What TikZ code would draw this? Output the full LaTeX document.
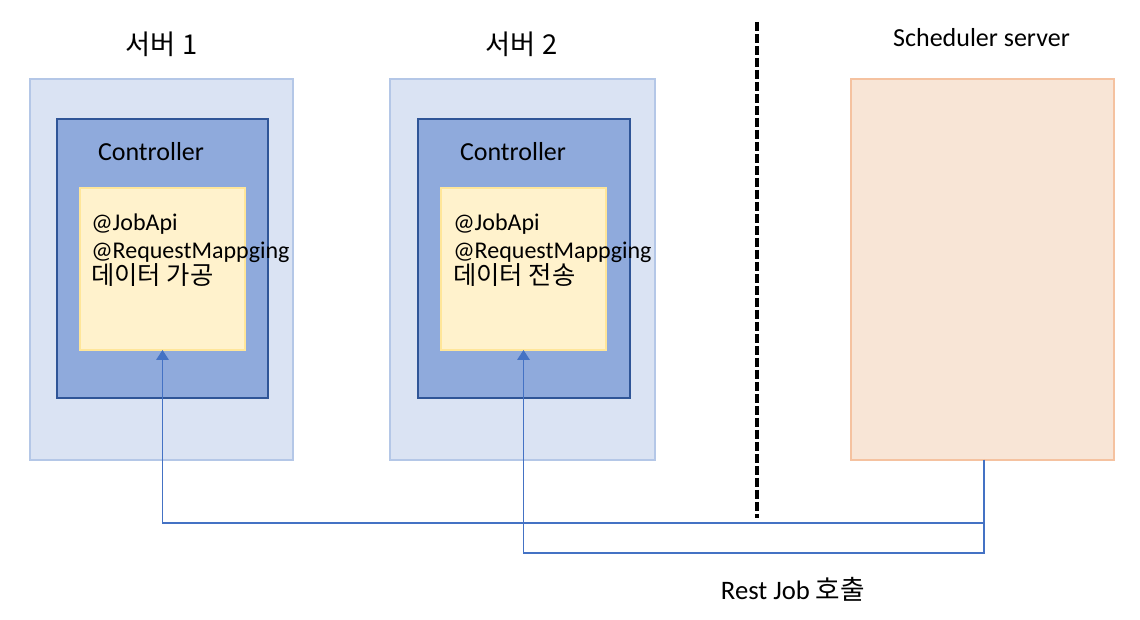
\documentclass[tikz,border=0pt]{standalone}
\usepackage{fontspec}
\setmainfont{Carlito}
\newfontfamily\kr{Noto Sans CJK KR}
\usetikzlibrary{arrows.meta}
\definecolor{outerfill}{HTML}{DAE3F3}
\definecolor{outerdraw}{HTML}{B4C7E7}
\definecolor{ctrlfill}{HTML}{8FAADC}
\definecolor{ctrldraw}{HTML}{2F5597}
\definecolor{yfill}{HTML}{FFF2CC}
\definecolor{ydraw}{HTML}{FFE699}
\definecolor{sfill}{HTML}{F8E5D6}
\definecolor{sdraw}{HTML}{F5C2A0}
\definecolor{conncol}{HTML}{4472C4}
\tikzset{
  box/.style={rectangle, inner sep=0pt, outer sep=0pt},
  outerbox/.style={box, fill=outerfill, draw=outerdraw, line width=1.3pt},
  ctrlbox/.style={box, fill=ctrlfill, draw=ctrldraw, line width=1.4pt},
  ybox/.style={box, fill=yfill, draw=ydraw, line width=1.2pt},
  schedbox/.style={box, fill=sfill, draw=sdraw, line width=1.3pt},
  lbl/.style={inner sep=0pt, anchor=base},
  itemtxt/.style={inner sep=0pt, anchor=base west, font=\fontsize{18}{21}\selectfont},
  krtxt/.style={itemtxt, font=\kr\fontsize{19}{22}\selectfont},
  conn/.style={draw=conncol, line width=0.9pt, -{Triangle[width=9.5pt,length=7.5pt]}},
  sep/.style={black, line width=2.5pt, dash pattern=on 6.75pt off 2.25pt}
}
\begin{document}
\begin{tikzpicture}[x=0.75pt,y=-0.75pt]
\useasboundingbox (0,0) rectangle (1140,620);
% server 1
\node[outerbox, minimum width=263*0.75pt, minimum height=381*0.75pt] (o1) at (161.5,269.5) {};
\node[ctrlbox, minimum width=211*0.75pt, minimum height=279*0.75pt] (c1) at (162.5,258.5) {};
\node[ybox, minimum width=165*0.75pt, minimum height=162*0.75pt] (y1) at (162.5,269) {};
\node[lbl, font=\kr\fontsize{20.5}{24}\selectfont] (t1) at (161.5,55) {서버 1};
\node[lbl, font=\fontsize{19.5}{23}\selectfont] (ct1) at (151,161) {Controller};
\node[itemtxt] (a1) at (91,231) {@JobApi};
\node[itemtxt] (b1) at (91,259) {@RequestMappging};
\node[krtxt] (d1) at (91,285) {데이터 가공};
% server 2
\node[outerbox, minimum width=265*0.75pt, minimum height=381*0.75pt] (o2) at (522.5,269.5) {};
\node[ctrlbox, minimum width=212*0.75pt, minimum height=279*0.75pt] (c2) at (524,258.5) {};
\node[ybox, minimum width=165*0.75pt, minimum height=162*0.75pt] (y2) at (523.5,269) {};
\node[lbl, font=\kr\fontsize{20.5}{24}\selectfont] (t2) at (521.5,55) {서버 2};
\node[lbl, font=\fontsize{19.5}{23}\selectfont] (ct2) at (513,161) {Controller};
\node[itemtxt] (a2) at (453,231) {@JobApi};
\node[itemtxt] (b2) at (453,259) {@RequestMappging};
\node[krtxt] (d2) at (453,285) {데이터 전송};
% scheduler
\node[schedbox, minimum width=263*0.75pt, minimum height=381*0.75pt] (s) at (982.5,269.5) {};
\node[lbl, font=\fontsize{19.5}{23}\selectfont] (st) at (981.5,47) {Scheduler server};
% separator
\coordinate (dtop) at (757,22);
\coordinate (dbot) at (757,518);
\draw[sep] (dtop) -- (dbot);
% connectors
\coordinate (j1) at (984,523);
\coordinate (j2) at (984,553);
\draw[conn] (s.south -| j1) -- (j1) -| (y1.south);
\draw[conn] (s.south -| j2) -- (j2) -| (y2.south);
\node[lbl, font=\fontsize{20}{24}\selectfont] (rj) at (793,599) {Rest Job {\kr 호출}};
\end{tikzpicture}
\end{document}
